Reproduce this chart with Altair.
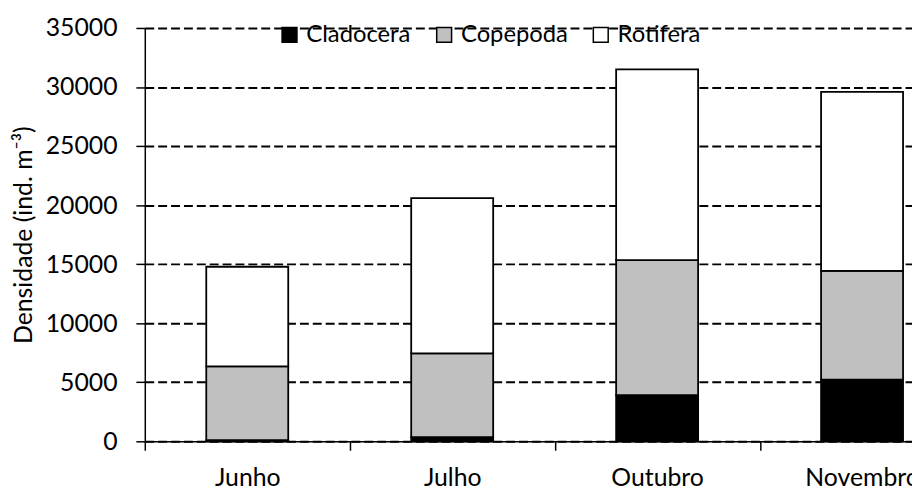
import altair as alt
import pandas as pd

months = ["Junho", "Julho", "Outubro", "Novembro"]
groups = ["Cladocera", "Copepoda", "Rotifera"]
cladocera = [100, 350, 3900, 5230]
copepoda = [6250, 7100, 11440, 9210]
rotifera = [8430, 13150, 16160, 15140]
colors = ["#000000", "#C0C0C0", "#FFFFFF"]
y_ticks = [0, 5000, 10000, 15000, 20000, 25000, 30000, 35000]

rows = []
for i, m in enumerate(months):
    for k, (g, vals) in enumerate(zip(groups, [cladocera, copepoda, rotifera])):
        rows.append({"Mes": m, "Grupo": g, "Valor": vals[i], "ordem": k})
df = pd.DataFrame(rows)

FONT = "Lato"
STEP = 206

chart = alt.Chart(df).mark_bar(stroke="black", strokeWidth=1.8).encode(
    x=alt.X("Mes:N", sort=months,
            scale=alt.Scale(domain=months, range=[0, 827], paddingInner=0.6, paddingOuter=0.3),
            axis=alt.Axis(title=None, labelAngle=0, grid=False, ticks=True,
                          tickOffset=-STEP / 2, labelOffset=STEP / 2,
                          tickSize=9, tickColor="black", tickWidth=1.5,
                          domainColor="black", domainWidth=1.5,
                          labelFont=FONT, labelFontSize=25, labelColor="black",
                          labelBaseline="alphabetic", labelPadding=36)),
    y=alt.Y("Valor:Q", stack="zero",
            scale=alt.Scale(domain=[0, 35000], nice=False),
            axis=alt.Axis(title="Densidade (ind. m⁻³)", values=y_ticks, format="d",
                          grid=True, gridColor="black", gridDash=[9, 4], gridWidth=2,
                          tickSize=9, tickColor="black", tickWidth=1.5,
                          domainColor="black", domainWidth=1.5,
                          labelFont=FONT, labelFontSize=25, labelColor="black",
                          labelPadding=19,
                          titleFont=FONT, titleFontSize=25, titleFontWeight="normal",
                          titleColor="black", titlePadding=9)),
    color=alt.Color("Grupo:N", sort=groups,
                    scale=alt.Scale(domain=groups, range=colors),
                    legend=alt.Legend(title=None, orient="none", direction="horizontal",
                                      legendX=134, legendY=-5,
                                      symbolType="square", symbolSize=225,
                                      symbolStrokeColor="black", symbolStrokeWidth=1.5,
                                      symbolOpacity=1,
                                      labelFont=FONT, labelFontSize=24, labelColor="black",
                                      labelOffset=5, columnPadding=21)),
    order=alt.Order("ordem:Q", sort="ascending"),
).properties(
    width=774, height=417,
    autosize=alt.AutoSizeParams(type="none"),
    padding={"left": 138, "top": 18, "right": 0, "bottom": 50},
    background="white",
).configure_view(stroke=None)

chart.save("out.html", embed_options={"renderer": "svg", "actions": False})
